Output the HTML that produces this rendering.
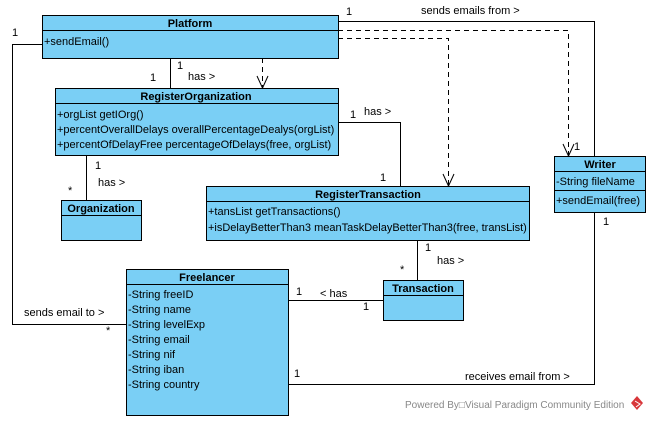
<!DOCTYPE html>
<html><head><meta charset="utf-8"><style>
html,body{margin:0;padding:0;background:#fff;}
svg text{font-family:"Liberation Sans",sans-serif;font-size:11px;fill:#000;}
.b{font-weight:bold;}
</style></head><body>
<svg width="649" height="420" xmlns="http://www.w3.org/2000/svg">
<g fill="#7ACFF5" stroke="#000" stroke-width="1">
<rect x="42.5" y="15.5" width="296" height="43"/>
<rect x="55.5" y="88.5" width="283" height="67"/>
<rect x="61.5" y="200.5" width="80" height="40"/>
<rect x="206.5" y="186.5" width="323" height="54"/>
<rect x="554.5" y="156.5" width="91" height="56"/>
<rect x="126.5" y="269.5" width="162" height="146"/>
<rect x="383.5" y="280.5" width="80" height="40"/>
</g>
<g stroke="#000" stroke-width="1" fill="none">
<line x1="42" y1="30.5" x2="338" y2="30.5"/>
<line x1="55" y1="103.5" x2="338" y2="103.5"/>
<line x1="61" y1="215.5" x2="141" y2="215.5"/>
<line x1="206" y1="201.5" x2="529" y2="201.5"/>
<line x1="554" y1="171.5" x2="645" y2="171.5"/>
<line x1="554" y1="190.5" x2="645" y2="190.5"/>
<line x1="126" y1="284.5" x2="288" y2="284.5"/>
<line x1="383" y1="295.5" x2="463" y2="295.5"/>
<line x1="170.5" y1="58" x2="170.5" y2="88"/>
<polyline points="338,21.5 594.5,21.5 594.5,156"/>
<polyline points="338,122.5 400.5,122.5 400.5,186"/>
<line x1="86.5" y1="155" x2="86.5" y2="200"/>
<polyline points="42,44.5 12.5,44.5 12.5,324.5 126,324.5"/>
<line x1="417.5" y1="240" x2="417.5" y2="280"/>
<line x1="288" y1="300.5" x2="383" y2="300.5"/>
<polyline points="594.5,212 594.5,384.5 288,384.5"/>
<g stroke-dasharray="5,4">
<line x1="262.5" y1="58" x2="262.5" y2="88"/>
<polyline points="338,30.5 568.5,30.5 568.5,156"/>
<polyline points="338,38.5 448.5,38.5 448.5,186"/>
</g>
<polyline points="257,76 262.5,88 268,76"/>
<polyline points="563,144 568.5,156 574,144"/>
<polyline points="443,174 448.5,186 454,174"/>
</g>
<text class="b" x="190" y="27" text-anchor="middle">Platform</text>
<text x="44" y="45">+sendEmail()</text>
<text class="b" x="196" y="100" text-anchor="middle">RegisterOrganization</text>
<text x="57" y="118">+orgList getIOrg()</text>
<text x="57" y="133">+percentOverallDelays overallPercentageDealys(orgList)</text>
<text x="57" y="148">+percentOfDelayFree percentageOfDelays(free, orgList)</text>
<text class="b" x="101" y="212" text-anchor="middle">Organization</text>
<text class="b" x="368" y="198" text-anchor="middle">RegisterTransaction</text>
<text x="208" y="215">+tansList getTransactions()</text>
<text x="208" y="231">+isDelayBetterThan3 meanTaskDelayBetterThan3(free, transList)</text>
<text class="b" x="600" y="168" text-anchor="middle">Writer</text>
<text x="556" y="185">-String fileName</text>
<text x="556" y="204">+sendEmail(free)</text>
<text class="b" x="207" y="281" text-anchor="middle">Freelancer</text>
<text x="128" y="298">-String freeID</text>
<text x="128" y="313">-String name</text>
<text x="128" y="328">-String levelExp</text>
<text x="128" y="343">-String email</text>
<text x="128" y="358">-String nif</text>
<text x="128" y="373">-String iban</text>
<text x="128" y="388">-String country</text>
<text class="b" x="423" y="292" text-anchor="middle">Transaction</text>
<text x="12" y="36">1</text>
<text x="150" y="81">1</text>
<text x="177" y="69">1</text>
<text x="188" y="80">has &gt;</text>
<text x="346" y="15">1</text>
<text x="421" y="14">sends emails from &gt;</text>
<text x="574" y="150">1</text>
<text x="350" y="118">1</text>
<text x="364" y="115">has &gt;</text>
<text x="380" y="181">1</text>
<text x="95" y="169">1</text>
<text x="98" y="186">has &gt;</text>
<text x="68" y="194">*</text>
<text x="24" y="316">sends email to &gt;</text>
<text x="106" y="334">*</text>
<text x="425" y="251">1</text>
<text x="437" y="264">has &gt;</text>
<text x="400" y="273">*</text>
<text x="296" y="295">1</text>
<text x="320" y="297">&lt; has</text>
<text x="363" y="310">1</text>
<text x="603" y="225">1</text>
<text x="294" y="377">1</text>
<text x="465" y="380">receives email from &gt;</text>
<text x="405" y="408" style="font-size:10px;fill:#888">Powered By□Visual Paradigm Community Edition</text>
<g transform="translate(637,403)"><path d="M0,-7 L6,0 L0,7 L-6,0 Z" fill="#d8363a"/><path d="M-2,-2 L3,1 L-1,4" stroke="#fff" fill="none"/></g>
</svg>
</body></html>
